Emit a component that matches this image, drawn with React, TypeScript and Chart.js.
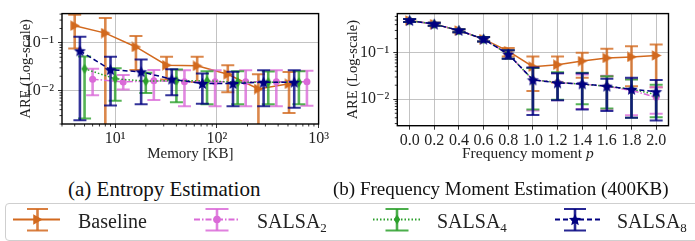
import React, { useEffect, useRef } from "react";
import { Chart, registerables } from "chart.js";
Chart.register(...registerables);

const FONT = "'Liberation Serif', 'DejaVu Serif', serif";

// ---------- (a) Entropy estimation ----------
const memBaseline = [4, 8, 16, 32, 64, 128, 256, 512];
const memSalsa8 = [4.5, 9, 18, 36, 72, 144, 288, 576];
const memSalsa4 = [5, 10, 20, 40, 80, 160, 320, 640];
const memSalsa2 = [6, 12, 24, 48, 96, 192, 384, 768];

const entBaseline = [0.229, 0.16, 0.082, 0.034, 0.033, 0.022, 0.0108, 0.0139];
const entBaselineLo = [0.076, 0.0015, 0.027, 0.017, 0.0152, 0.0093, 0.0015, 0.0034];
const entBaselineHi = [0.39, 0.33, 0.14, 0.051, 0.051, 0.034, 0.022, 0.0246];

const entSalsa8 = [0.068, 0.0274, 0.0247, 0.0174, 0.0141, 0.0141, 0.015, 0.015];
const entSalsa8Lo = [0.0024, 0.0049, 0.0052, 0.008, 0.0053, 0.0047, 0.0047, 0.0044];
const entSalsa8Hi = [0.135, 0.051, 0.045, 0.028, 0.0229, 0.0247, 0.0266, 0.0266];

const entSalsa4 = [0.0286, 0.0177, 0.0158, 0.0162, 0.016, 0.015, 0.015, 0.015];
const entSalsa4Lo = [0.0026, 0.0061, 0.0089, 0.0057, 0.0052, 0.0052, 0.0052, 0.0052];
const entSalsa4Hi = [0.052, 0.0295, 0.0236, 0.0277, 0.0253, 0.0253, 0.025, 0.0255];

const entSalsa2 = [0.0174, 0.0152, 0.016, 0.0153, 0.0153, 0.0153, 0.0153, 0.0153];
const entSalsa2Lo = [0.008, 0.0105, 0.0064, 0.0047, 0.0047, 0.0047, 0.0047, 0.0048];
const entSalsa2Hi = [0.0286, 0.0212, 0.027, 0.0266, 0.0266, 0.0266, 0.0266, 0.026];

const memTicks = [10, 100, 1000];
const memTickLabels = ["10\u00B9", "10\u00B2", "10\u00B3"];
const areTicks = [0.01, 0.1];
const areTickLabels = ["10\u207B\u00B2", "10\u207B\u00B9"];

// ---------- (b) Frequency moment estimation ----------
const pValues = [0, 0.2, 0.4, 0.6, 0.8, 1.0, 1.2, 1.4, 1.6, 1.8, 2.0];
const pTickLabels = ["0.0", "0.2", "0.4", "0.6", "0.8", "1.0", "1.2", "1.4", "1.6", "1.8", "2.0"];

const fmBaseline = [0.49, 0.41, 0.3, 0.195, 0.108, 0.05, 0.055, 0.066, 0.077, 0.081, 0.087];
const fmBaselineLo = [0.455, 0.377, 0.273, 0.174, 0.083, 0.015, 0.023, 0.029, 0.031, 0.019, 0.018];
const fmBaselineHi = [0.53, 0.44, 0.318, 0.217, 0.126, 0.083, 0.083, 0.1, 0.122, 0.138, 0.15];

const fmSalsa8 = [0.49, 0.41, 0.3, 0.195, 0.093, 0.026, 0.0224, 0.0213, 0.019, 0.0163, 0.0145];
const fmSalsa8Lo = [0.455, 0.377, 0.273, 0.174, 0.074, 0.0046, 0.0095, 0.006, 0.0056, 0.004, 0.0035];
const fmSalsa8Hi = [0.53, 0.44, 0.318, 0.217, 0.113, 0.048, 0.036, 0.036, 0.0275, 0.029, 0.026];

const fmSalsa4 = [0.49, 0.41, 0.3, 0.195, 0.093, 0.026, 0.023, 0.021, 0.019, 0.0165, 0.0125];
const fmSalsa4Lo = [0.455, 0.377, 0.273, 0.174, 0.074, 0.006, 0.0098, 0.0078, 0.0063, 0.004, 0.0041];
const fmSalsa4Hi = [0.53, 0.44, 0.318, 0.217, 0.113, 0.047, 0.038, 0.037, 0.031, 0.0265, 0.0205];

const fmSalsa2 = [0.49, 0.41, 0.3, 0.195, 0.093, 0.026, 0.023, 0.021, 0.019, 0.0155, 0.011];
const fmSalsa2Lo = [0.455, 0.377, 0.273, 0.174, 0.074, 0.0057, 0.0095, 0.0062, 0.006, 0.0045, 0.0049];
const fmSalsa2Hi = [0.53, 0.44, 0.318, 0.217, 0.113, 0.047, 0.036, 0.034, 0.032, 0.027, 0.018];

const fmTicksY = [0.01, 0.1];

const C_BASE = "#D2691E";
const C_S2 = "#DA6AD8";
const C_S4 = "#2CA02C";
const C_S8 = "#000080";

function makeCanvas(w: number, h: number) {
  const c = document.createElement("canvas");
  c.width = w;
  c.height = h;
  return c;
}
function drawStar(g: CanvasRenderingContext2D, cx: number, cy: number, R: number, color: string) {
  g.fillStyle = color;
  g.beginPath();
  for (let i = 0; i < 10; i++) {
    const r = i % 2 === 0 ? R : R * 0.45;
    const a = -Math.PI / 2 + (i * Math.PI) / 5;
    const x = cx + r * Math.cos(a);
    const y = cy + r * Math.sin(a);
    if (i === 0) g.moveTo(x, y);
    else g.lineTo(x, y);
  }
  g.closePath();
  g.fill();
}
function drawDiamond(g: CanvasRenderingContext2D, cx: number, cy: number, w: number, h: number, color: string) {
  g.fillStyle = color;
  g.beginPath();
  g.moveTo(cx, cy - h / 2);
  g.lineTo(cx + w / 2, cy);
  g.lineTo(cx, cy + h / 2);
  g.lineTo(cx - w / 2, cy);
  g.closePath();
  g.fill();
}
function drawTri(g: CanvasRenderingContext2D, cx: number, cy: number, s: number, color: string) {
  g.fillStyle = color;
  g.beginPath();
  g.moveTo(cx + s * 0.55, cy);
  g.lineTo(cx - s * 0.45, cy - s * 0.55);
  g.lineTo(cx - s * 0.45, cy + s * 0.55);
  g.closePath();
  g.fill();
}
function starMarker() {
  const c = makeCanvas(13, 13);
  drawStar(c.getContext("2d")!, 6.5, 7, 6.3, C_S8);
  return c;
}
function diamondMarker() {
  const c = makeCanvas(8, 11);
  drawDiamond(c.getContext("2d")!, 4, 5.5, 6.5, 10, C_S4);
  return c;
}
function triMarker() {
  const c = makeCanvas(11, 11);
  drawTri(c.getContext("2d")!, 5.5, 5.5, 9.5, C_BASE);
  return c;
}

const errorBarPlugin = {
  id: "errorBars",
  beforeDatasetDraw(chart: any, args: any) {
    const ds: any = chart.data.datasets[args.index];
    if (!ds.errLo) return;
    const { ctx, chartArea: ca } = chart;
    const xs = chart.scales.x;
    const ys = chart.scales.y;
    ctx.save();
    ctx.beginPath();
    ctx.rect(ca.left, ca.top, ca.right - ca.left, ca.bottom - ca.top);
    ctx.clip();
    ctx.strokeStyle = ds.errColor;
    ctx.globalAlpha = 0.8;
    ctx.setLineDash([]);
    const cap = 6.5;
    ds.data.forEach((pt: any, i: number) => {
      const px = xs.getPixelForValue(pt.x);
      const yl = ys.getPixelForValue(ds.errLo[i]);
      const yh = ys.getPixelForValue(ds.errHi[i]);
      ctx.lineWidth = 2.6;
      ctx.beginPath();
      ctx.moveTo(px, yl);
      ctx.lineTo(px, yh);
      ctx.stroke();
      ctx.lineWidth = 2;
      ctx.beginPath();
      ctx.moveTo(px - cap, yl);
      ctx.lineTo(px + cap, yl);
      ctx.moveTo(px - cap, yh);
      ctx.lineTo(px + cap, yh);
      ctx.stroke();
    });
    ctx.restore();
  },
};

const framePlugin = {
  id: "frame",
  afterDraw(chart: any) {
    const { ctx, chartArea: ca } = chart;
    const opts = chart.options.plugins.frame || {};
    ctx.save();
    ctx.setLineDash([]);
    ctx.strokeStyle = "#000";
    ctx.lineWidth = 0.8;
    const drawMinor = (axis: "x" | "y", vals: number[]) => {
      const s = chart.scales[axis];
      vals.forEach((v) => {
        const p = s.getPixelForValue(v);
        ctx.beginPath();
        if (axis === "x") {
          if (p < ca.left - 0.5 || p > ca.right + 0.5) return;
          ctx.moveTo(p, ca.bottom);
          ctx.lineTo(p, ca.bottom + 2.5);
        } else {
          if (p < ca.top - 0.5 || p > ca.bottom + 0.5) return;
          ctx.moveTo(ca.left, p);
          ctx.lineTo(ca.left - 2.5, p);
        }
        ctx.stroke();
      });
    };
    if (opts.minorX) drawMinor("x", opts.minorX);
    if (opts.minorY) drawMinor("y", opts.minorY);
    ctx.lineWidth = 1.4;
    ctx.strokeRect(ca.left, ca.top, ca.right - ca.left, ca.bottom - ca.top);
    ctx.restore();
  },
};

function minorLog(lo: number, hi: number) {
  const out: number[] = [];
  for (let d = Math.floor(Math.log10(lo)); d <= Math.ceil(Math.log10(hi)); d++) {
    for (let k = 2; k <= 9; k++) {
      const v = k * Math.pow(10, d);
      if (v >= lo && v <= hi) out.push(v);
    }
  }
  return out;
}

function series(
  label: string,
  xs: number[],
  ys: number[],
  lo: number[],
  hi: number[],
  color: string,
  dash: number[],
  pointStyle: any,
  radius: number,
  order: number
) {
  return {
    label,
    data: xs.map((x, i) => ({ x, y: ys[i] })),
    errLo: lo,
    errHi: hi,
    errColor: color,
    borderColor: color,
    backgroundColor: color,
    borderWidth: 1.5,
    borderDash: dash,
    pointStyle,
    pointRadius: radius,
    pointBorderWidth: 0,
    tension: 0,
    order,
    clip: 6,
  };
}

const tickFont = { family: FONT, size: 16 };
const titleFont = { family: FONT, size: 15 };

function gridOpts() {
  return {
    color: "#b4b4b4",
    lineWidth: 0.8,
    borderDash: [2, 2],
    tickLength: 4,
    tickColor: "#000",
    tickBorderDash: [],
    tickWidth: 0.8,
  };
}

function axisY(min: number, max: number, titlePadTop: number, width: number, ticks: number[], labels: string[]) {
  return {
    type: "logarithmic",
    min,
    max,
    afterBuildTicks: (s: any) => {
      s.ticks = ticks.map((v) => ({ value: v, major: true }));
    },
    afterFit: (s: any) => {
      s.width = width;
    },
    ticks: {
      autoSkip: false,
      font: tickFont,
      color: "#222",
      padding: 4,
      callback: (_v: any, i: number) => labels[i],
    },
    grid: gridOpts(),
    border: { display: false },
    title: {
      display: true,
      text: "ARE (Log-scale)",
      font: { family: FONT, size: 14.5 },
      color: "#222",
      padding: { top: titlePadTop, bottom: 0 },
    },
  };
}

function EntropyChart() {
  const ref = useRef<HTMLCanvasElement>(null);
  useEffect(() => {
    const chart = new Chart(ref.current!, {
      type: "line",
      data: {
        datasets: [
          series("Baseline", memBaseline, entBaseline, entBaselineLo, entBaselineHi, C_BASE, [], triMarker(), 5, 3),
          series("SALSA2", memSalsa2, entSalsa2, entSalsa2Lo, entSalsa2Hi, C_S2, [6, 2, 1.5, 2], "circle", 3.5, 2),
          series("SALSA4", memSalsa4, entSalsa4, entSalsa4Lo, entSalsa4Hi, C_S4, [1.5, 2], diamondMarker(), 5, 1),
          series("SALSA8", memSalsa8, entSalsa8, entSalsa8Lo, entSalsa8Hi, C_S8, [5, 3], starMarker(), 6, 0),
        ] as any,
      },
      options: {
        responsive: false,
        animation: false,
        events: [],
        layout: { padding: { top: 6, right: 7, left: 0, bottom: 0 } },
        plugins: {
          legend: { display: false },
          tooltip: { enabled: false },
          frame: { minorX: minorLog(3, 1000), minorY: minorLog(0.002, 0.41) },
        } as any,
        scales: {
          x: {
            type: "logarithmic",
            min: 3,
            max: 1000,
            afterBuildTicks: (s: any) => {
              s.ticks = memTicks.map((v) => ({ value: v, major: true }));
            },
            afterFit: (s: any) => {
              s.height = 46;
            },
            ticks: {
              autoSkip: false,
              maxRotation: 0,
              font: tickFont,
              color: "#222",
              padding: 1,
              callback: (_v: any, i: number) => memTickLabels[i],
            },
            grid: gridOpts(),
            border: { display: false },
            title: {
              display: true,
              text: "Memory [KB]",
              font: titleFont,
              color: "#222",
              padding: { top: 0, bottom: 7 },
            },
          },
          y: axisY(0.002, 0.41, 17, 62, areTicks, areTickLabels),
        } as any,
      },
      plugins: [errorBarPlugin, framePlugin],
    });
    return () => chart.destroy();
  }, []);
  return <canvas ref={ref} width={330} height={170} />;
}

function MomentChart() {
  const ref = useRef<HTMLCanvasElement>(null);
  useEffect(() => {
    const chart = new Chart(ref.current!, {
      type: "line",
      data: {
        datasets: [
          series("Baseline", pValues, fmBaseline, fmBaselineLo, fmBaselineHi, C_BASE, [], triMarker(), 5, 3),
          series("SALSA2", pValues, fmSalsa2, fmSalsa2Lo, fmSalsa2Hi, C_S2, [6, 2, 1.5, 2], "circle", 3.5, 2),
          series("SALSA4", pValues, fmSalsa4, fmSalsa4Lo, fmSalsa4Hi, C_S4, [1.5, 2], diamondMarker(), 5, 1),
          series("SALSA8", pValues, fmSalsa8, fmSalsa8Lo, fmSalsa8Hi, C_S8, [5, 3], starMarker(), 6, 0),
        ] as any,
      },
      options: {
        responsive: false,
        animation: false,
        events: [],
        layout: { padding: { top: 6, right: 26.5, left: 0, bottom: 0 } },
        plugins: {
          legend: { display: false },
          tooltip: { enabled: false },
          frame: { minorY: minorLog(0.0027, 0.69) },
        } as any,
        scales: {
          x: {
            type: "linear",
            min: -0.1,
            max: 2.1,
            afterBuildTicks: (s: any) => {
              s.ticks = pValues.map((v) => ({ value: v }));
            },
            afterFit: (s: any) => {
              s.height = 44.3;
            },
            ticks: {
              autoSkip: false,
              maxRotation: 0,
              font: tickFont,
              color: "#222",
              padding: 1,
              callback: (_v: any, i: number) => pTickLabels[i],
            },
            grid: gridOpts(),
            border: { display: false },
          },
          y: axisY(0.0027, 0.69, 14, 67.3, fmTicksY, areTickLabels),
        } as any,
      },
      plugins: [errorBarPlugin, framePlugin],
    });
    return () => chart.destroy();
  }, []);
  return <canvas ref={ref} width={365} height={170} />;
}

function LegendGlyphs() {
  const ref = useRef<HTMLCanvasElement>(null);
  useEffect(() => {
    const c = ref.current!;
    const g = c.getContext("2d")!;
    const OY = 195;
    const items = [
      { color: C_BASE, x0: 13, x1: 60, cx: 37.5, cap: 10.5, dash: [] as number[], m: "tri" },
      { color: C_S2, x0: 194, x1: 238, cx: 217, cap: 11.5, dash: [6, 2, 1.5, 2], m: "circle" },
      { color: C_S4, x0: 373, x1: 420, cx: 397, cap: 11.5, dash: [1.5, 2], m: "diamond" },
      { color: C_S8, x0: 555, x1: 600, cx: 575, cap: 11, dash: [5, 3], m: "star" },
    ];
    items.forEach((it) => {
      const y = 219.5 - OY;
      const yt = 209 - OY;
      const yb = 230.5 - OY;
      g.save();
      g.strokeStyle = it.color;
      g.lineWidth = 2;
      g.setLineDash(it.dash);
      g.beginPath();
      g.moveTo(it.x0, y);
      g.lineTo(it.x1, y);
      g.stroke();
      g.setLineDash([]);
      g.globalAlpha = 0.85;
      g.lineWidth = 2.6;
      g.beginPath();
      g.moveTo(it.cx, yt);
      g.lineTo(it.cx, yb);
      g.stroke();
      g.lineWidth = 2;
      g.beginPath();
      g.moveTo(it.cx - it.cap, yt);
      g.lineTo(it.cx + it.cap, yt);
      g.moveTo(it.cx - it.cap, yb);
      g.lineTo(it.cx + it.cap, yb);
      g.stroke();
      g.globalAlpha = 1;
      if (it.m === "tri") drawTri(g, it.cx, y, 9.5, it.color);
      else if (it.m === "circle") {
        g.fillStyle = it.color;
        g.beginPath();
        g.arc(it.cx, y, 3.8, 0, Math.PI * 2);
        g.fill();
      } else if (it.m === "diamond") drawDiamond(g, it.cx, y, 6.5, 10, it.color);
      else drawStar(g, it.cx, y + 0.5, 6.5, it.color);
      g.restore();
    });
  }, []);
  return (
    <canvas
      ref={ref}
      width={695}
      height={46}
      style={{ position: "absolute", left: 0, top: 195 }}
    />
  );
}

export default function App() {
  const abs = (l: number, t: number): React.CSSProperties => ({ position: "absolute", left: l, top: t });
  const legendText: React.CSSProperties = {
    position: "absolute",
    top: 209,
    fontSize: 20,
    lineHeight: "24px",
    color: "#222",
    whiteSpace: "nowrap",
  };
  return (
    <div
      style={{
        position: "absolute",
        left: 0,
        top: 0,
        width: 695,
        height: 241,
        overflow: "hidden",
        background: "#fff",
        fontFamily: FONT,
      }}
    >
      <div style={abs(0, 0)}>
        <EntropyChart />
      </div>
      <div style={abs(330, 0)}>
        <MomentChart />
      </div>
      <div style={{ ...abs(462, 143), fontSize: 15.5, lineHeight: "20px", color: "#222", whiteSpace: "nowrap" }}>
        Frequency moment <i>p</i>
      </div>
      <div style={{ ...abs(68, 177), fontSize: 21, lineHeight: "24px", color: "#111", whiteSpace: "nowrap" }}>
        (a) Entropy Estimation
      </div>
      <div style={{ ...abs(333, 178), fontSize: 19, lineHeight: "22px", color: "#111", whiteSpace: "nowrap" }}>
        (b) Frequency Moment Estimation (400KB)
      </div>
      <div
        style={{
          position: "absolute",
          left: 5,
          top: 203,
          width: 720,
          height: 36,
          border: "1px solid #cfcfcf",
          borderRadius: 4,
        }}
      />
      <LegendGlyphs />
      <div style={{ ...legendText, left: 78 }}>Baseline</div>
      <div style={{ ...legendText, left: 257 }}>
        SALSA<sub style={{ fontSize: 13, verticalAlign: "-4px" }}>2</sub>
      </div>
      <div style={{ ...legendText, left: 437 }}>
        SALSA<sub style={{ fontSize: 13, verticalAlign: "-4px" }}>4</sub>
      </div>
      <div style={{ ...legendText, left: 617 }}>
        SALSA<sub style={{ fontSize: 13, verticalAlign: "-4px" }}>8</sub>
      </div>
    </div>
  );
}
